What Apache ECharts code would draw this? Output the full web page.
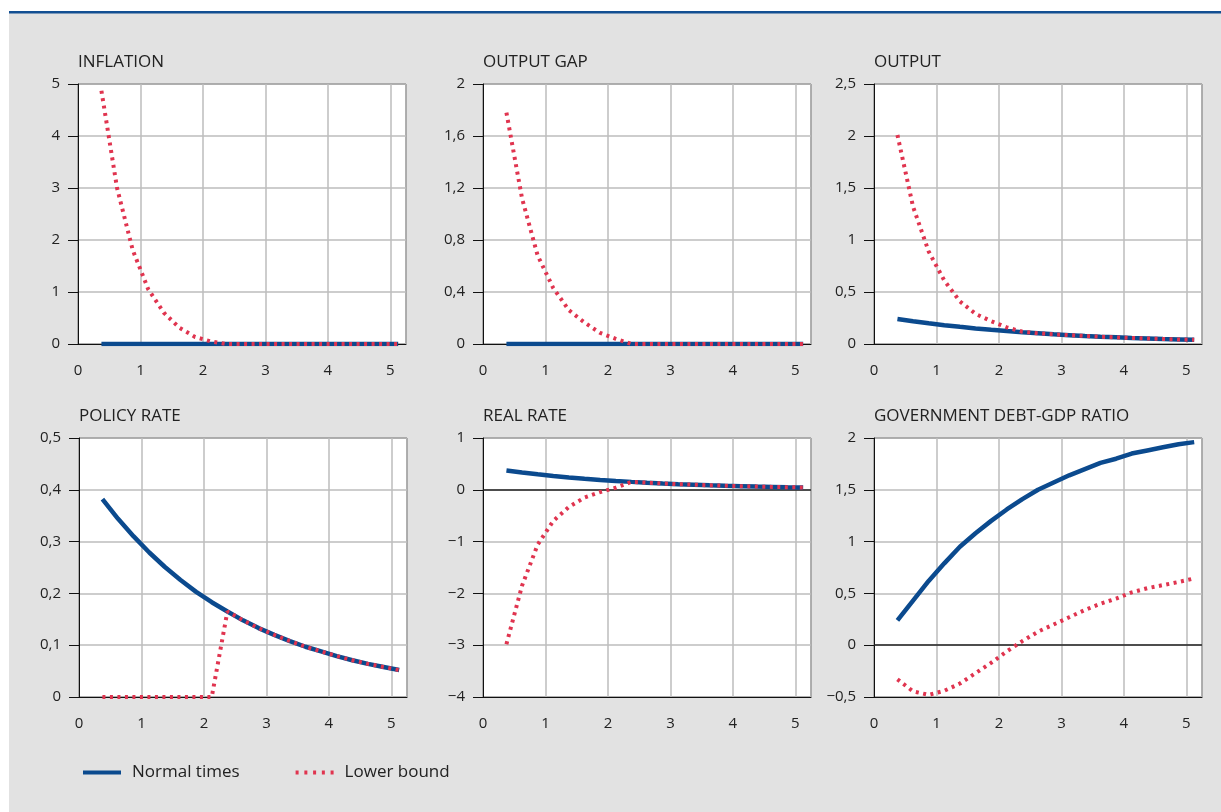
<!DOCTYPE html>
<html>
<head>
<meta charset="utf-8">
<script src="https://cdn.jsdelivr.net/npm/echarts@6/dist/echarts.min.js"></script>
<style>
html,body{margin:0;padding:0;background:#ffffff;}
#chart{width:1221px;height:812px;}
</style>
</head>
<body>
<div id="chart"></div>
<script>
// ---- data ----
const xQuarters = [0.375, 0.625, 0.875, 1.125, 1.375, 1.625, 1.875, 2.125, 2.375, 2.625,
                   2.875, 3.125, 3.375, 3.625, 3.875, 4.125, 4.375, 4.625, 4.875, 5.125];
const panelTitles = ['INFLATION', 'OUTPUT GAP', 'OUTPUT', 'POLICY RATE', 'REAL RATE', 'GOVERNMENT DEBT-GDP RATIO'];
const seriesNames = ['Normal times', 'Lower bound'];
const xTicks = [0, 1, 2, 3, 4, 5];

const inflationNormal = [0,0,0,0,0,0,0,0,0,0,0,0,0,0,0,0,0,0,0,0];
const inflationLB = [4.87, 3.00, 1.81, 1.05, 0.60, 0.31, 0.135, 0.05, 0, 0, 0, 0, 0, 0, 0, 0, 0, 0, 0, 0];

const outputGapNormal = [0,0,0,0,0,0,0,0,0,0,0,0,0,0,0,0,0,0,0,0];
const outputGapLB = [1.78, 1.12, 0.68, 0.43, 0.26, 0.165, 0.085, 0.04, 0, 0, 0, 0, 0, 0, 0, 0, 0, 0, 0, 0];

const outputNormal = [0.240, 0.218, 0.199, 0.181, 0.165, 0.150, 0.136, 0.124, 0.113, 0.103,
                      0.093, 0.085, 0.077, 0.070, 0.064, 0.058, 0.053, 0.048, 0.044, 0.040];
const outputLB = [2.01, 1.32, 0.89, 0.61, 0.41, 0.29, 0.22, 0.16, 0.118, 0.103,
                  0.093, 0.085, 0.077, 0.070, 0.064, 0.058, 0.053, 0.048, 0.044, 0.040];

const policyNormal = [0.382, 0.344, 0.310, 0.279, 0.251, 0.226, 0.203, 0.183, 0.165, 0.148,
                      0.133, 0.120, 0.108, 0.097, 0.088, 0.079, 0.071, 0.064, 0.058, 0.052];
const policyLB = [0, 0, 0, 0, 0, 0, 0, 0, 0.165, 0.148,
                  0.133, 0.120, 0.108, 0.097, 0.088, 0.079, 0.071, 0.064, 0.058, 0.052];

const realNormal = [0.374, 0.335, 0.299, 0.268, 0.239, 0.214, 0.191, 0.171, 0.153, 0.137,
                    0.122, 0.109, 0.098, 0.087, 0.078, 0.070, 0.062, 0.056, 0.050, 0.045];
const realLB = [-2.98, -1.85, -1.06, -0.60, -0.33, -0.15, -0.045, 0.04, 0.153, 0.137,
                0.122, 0.109, 0.098, 0.087, 0.078, 0.070, 0.062, 0.056, 0.050, 0.045];

const debtNormal = [0.24, 0.43, 0.62, 0.79, 0.95, 1.08, 1.20, 1.31, 1.41, 1.50,
                    1.57, 1.64, 1.70, 1.76, 1.80, 1.85, 1.88, 1.91, 1.94, 1.96];
const debtLB = [-0.33, -0.445, -0.48, -0.44, -0.37, -0.27, -0.17, -0.06, 0.04, 0.13,
                0.20, 0.27, 0.34, 0.40, 0.45, 0.51, 0.55, 0.58, 0.61, 0.645];

const yMin = [0, 0, 0, 0, -4, -0.5];
const yMax = [5, 2, 2.5, 0.5, 1, 2];
const yStep = [1, 0.4, 0.5, 0.1, 1, 0.5];
const zeroLine = [false, false, false, false, true, true];

const panelNormal = [inflationNormal, outputGapNormal, outputNormal, policyNormal, realNormal, debtNormal];
const panelLB = [inflationLB, outputGapLB, outputLB, policyLB, realLB, debtLB];

// ---- layout ----
const BLUE = '#0b4a8e';
const RED = '#e0344f';
const FONT = 'Open Sans';
const gridBoxes = [
  {left: 78, top: 84, width: 328, height: 260},
  {left: 483, top: 84, width: 328, height: 260},
  {left: 874, top: 84, width: 328, height: 260},
  {left: 79, top: 438, width: 328, height: 259},
  {left: 483, top: 438, width: 328, height: 259},
  {left: 874, top: 438, width: 328, height: 259}
];
const titleTops = [54, 54, 54, 408, 408, 408];

function fmtY(v) {
  const r = Math.round(v * 100) / 100;
  return String(r).replace('.', ',').replace('-', '\u2212');
}
function pairs(vals) { return xQuarters.map((x, i) => [x, vals[i]]); }

const grids = [], xAxes = [], yAxes = [], series = [], titles = [];
for (let i = 0; i < 6; i++) {
  grids.push(Object.assign({show: true, borderColor: '#111', borderWidth: 1, backgroundColor: '#ffffff'}, gridBoxes[i]));
  titles.push({
    text: panelTitles[i], left: gridBoxes[i].left, top: titleTops[i], padding: 0,
    textStyle: {fontFamily: FONT, fontSize: 17, fontWeight: 'normal', color: '#222'}
  });
  xAxes.push({
    gridIndex: i, type: 'value', min: 0, max: 5.25, interval: 1,
    axisLine: {show: true, onZero: false, lineStyle: {color: '#111', width: 1}},
    axisTick: {show: false},
    splitLine: {show: true, lineStyle: {color: '#bcbcbc', width: 1.5}},
    axisLabel: {
      margin: 19, fontFamily: FONT, fontSize: 15, color: '#222',
      showMaxLabel: false,
      formatter: v => (xTicks.indexOf(v) >= 0 ? String(v) : '')
    }
  });
  yAxes.push({
    gridIndex: i, type: 'value', min: yMin[i], max: yMax[i], interval: yStep[i],
    axisLine: {show: true, lineStyle: {color: '#111', width: 1}},
    axisTick: {show: true, length: 10, lineStyle: {color: '#111', width: 1}},
    splitLine: {show: true, lineStyle: {color: '#bcbcbc', width: 1.5}},
    axisLabel: {margin: 18, fontFamily: FONT, fontSize: 15, color: '#222', formatter: fmtY}
  });
  const normal = {
    name: seriesNames[0], type: 'line', xAxisIndex: i, yAxisIndex: i,
    data: pairs(panelNormal[i]), showSymbol: false, symbol: 'none',
    lineStyle: {color: BLUE, width: 4.5}, itemStyle: {color: BLUE}, z: 3, silent: true
  };
  if (zeroLine[i]) {
    normal.markLine = {
      silent: true, symbol: 'none', label: {show: false},
      lineStyle: {color: '#222', width: 1.5, type: 'solid'},
      data: [{yAxis: 0}], z: 2
    };
  }
  series.push(normal);
  series.push({
    name: seriesNames[1], type: 'line', xAxisIndex: i, yAxisIndex: i,
    data: pairs(panelLB[i]), showSymbol: false, symbol: 'none',
    lineStyle: {color: RED, width: 4, type: [3, 4.5], cap: 'butt'}, itemStyle: {color: RED}, z: 4, silent: true
  });
}

const chart = echarts.init(document.getElementById('chart'), null, {renderer: 'canvas'});
chart.setOption({
  animation: false,
  backgroundColor: '#ffffff',
  graphic: [
    {type: 'rect', shape: {x: 9, y: 13, width: 1212, height: 799}, style: {fill: '#e2e2e2'}, z: -10, silent: true},
    {type: 'rect', shape: {x: 9, y: 11, width: 1212, height: 2.5}, style: {fill: '#124f92'}, z: -9, silent: true}
  ],
  title: titles,
  grid: grids,
  xAxis: xAxes,
  yAxis: yAxes,
  legend: {
    left: 78, top: 759, itemWidth: 38, itemHeight: 4, itemGap: 56,
    data: [
      {name: seriesNames[0], icon: 'rect', itemStyle: {color: BLUE}},
      {name: seriesNames[1], icon: 'path://M0,0h3v4h-3z M8.75,0h3v4h-3z M17.5,0h3v4h-3z M26.25,0h3v4h-3z M35,0h3v4h-3z', itemStyle: {color: RED}}
    ],
    selectedMode: false,
    textStyle: {fontFamily: FONT, fontSize: 17, color: '#222', padding: [0, 0, 0, 6]}
  },
  series: series
});
</script>
</body>
</html>
